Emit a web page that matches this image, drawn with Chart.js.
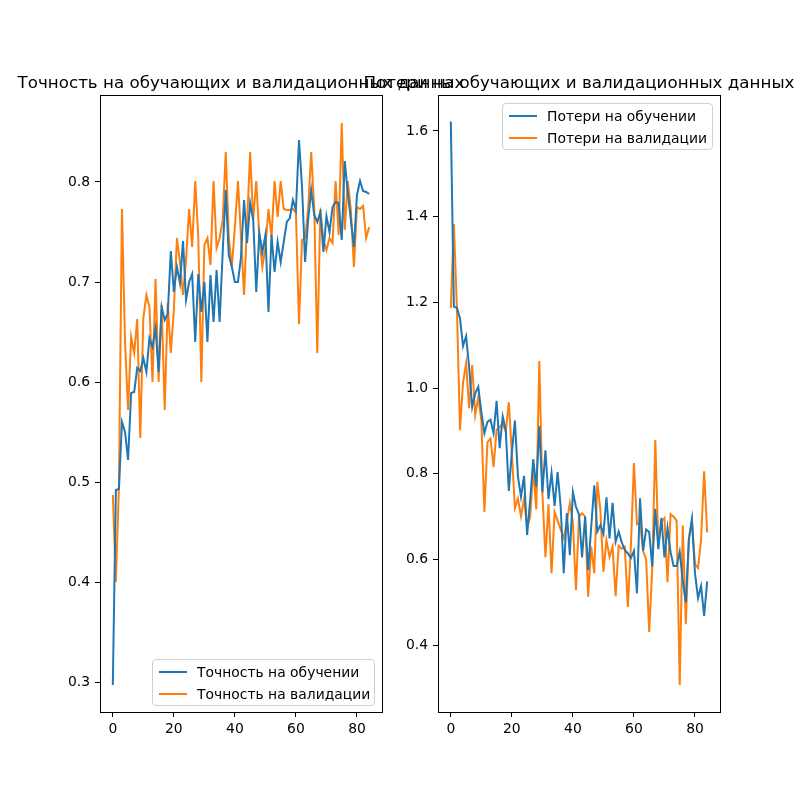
<!DOCTYPE html>
<html>
<head>
<meta charset="utf-8">
<script src="https://cdn.jsdelivr.net/npm/chart.js@4.4.0/dist/chart.umd.min.js"></script>
<style>
  body { margin: 0; background: #fff; }
  #wrap { position: relative; width: 800px; height: 800px; }
  canvas { position: absolute; left: 0; top: 0; }
  .title {
    position: absolute; top: 72px; height: 20px; line-height: 20px;
    width: 600px; margin-left: -300px; text-align: center; white-space: nowrap;
    font-family: "DejaVu Sans", sans-serif; font-size: 16.7px; color: #000;
  }
  .legend {
    position: absolute; background: rgba(255,255,255,0.8);
    border: 1px solid #d0d0d0; border-radius: 4px; white-space: nowrap;
    font-family: "DejaVu Sans", sans-serif; font-size: 13.9px; color: #000;
    padding: 1px 6px 1px 6px; box-sizing: border-box;
  }
  .legend .row { display: flex; align-items: center; height: 22px; }
  .legend .swatch { width: 28px; height: 2px; margin-right: 10px; flex: none; }
</style>
</head>
<body>
<div id="wrap">
  <canvas id="accChart" width="800" height="800"></canvas>
  <canvas id="lossChart" width="800" height="800"></canvas>
  <div class="title" id="accTitle" style="left:241px;"></div>
  <div class="title" id="lossTitle" style="left:579px;"></div>
  <div class="legend" id="accLegend" style="left:152px; top:659px; width:223px; height:47px;"></div>
  <div class="legend" id="lossLegend" style="left:502px; top:103px; width:211px; height:47px;"></div>
</div>
<script>
// epochs 0..84
const epochs = Array.from({ length: 85 }, (_, i) => i);
const xTicks = [0, 20, 40, 60, 80];
const accTicks = [0.3, 0.4, 0.5, 0.6, 0.7, 0.8];
const lossTicks = [0.4, 0.6, 0.8, 1.0, 1.2, 1.4, 1.6];

const accTitle = "Точность на обучающих и валидационных данных";
const lossTitle = "Потери на обучающих и валидационных данных";

const trainAcc = [
  0.297, 0.492, 0.493, 0.56, 0.55, 0.522, 0.589, 0.59, 0.614, 0.611,
  0.624, 0.61, 0.644, 0.635, 0.654, 0.61, 0.675, 0.662, 0.668, 0.731,
  0.69, 0.715, 0.699, 0.741, 0.682, 0.70, 0.708, 0.64, 0.708, 0.67,
  0.70, 0.64, 0.707, 0.66, 0.712, 0.66, 0.73, 0.792, 0.727, 0.715,
  0.70, 0.70, 0.725, 0.782, 0.739, 0.779, 0.762, 0.69, 0.749, 0.73,
  0.747, 0.67, 0.747, 0.71, 0.74, 0.72, 0.74, 0.76, 0.764, 0.782,
  0.772, 0.842, 0.795, 0.72, 0.762, 0.792, 0.767, 0.76, 0.77, 0.73,
  0.766, 0.75, 0.775, 0.78, 0.779, 0.742, 0.821, 0.789, 0.762, 0.735,
  0.787, 0.801, 0.791, 0.79, 0.788
];
const valAcc = [
  0.487, 0.40, 0.495, 0.773, 0.64, 0.572, 0.645, 0.629, 0.663, 0.544,
  0.664, 0.687, 0.675, 0.60, 0.703, 0.60, 0.677, 0.572, 0.679, 0.629,
  0.672, 0.744, 0.72, 0.687, 0.722, 0.773, 0.735, 0.801, 0.745, 0.60,
  0.737, 0.744, 0.717, 0.801, 0.734, 0.744, 0.762, 0.83, 0.745, 0.715,
  0.755, 0.801, 0.745, 0.687, 0.76, 0.83, 0.762, 0.801, 0.745, 0.715,
  0.735, 0.773, 0.745, 0.801, 0.765, 0.801, 0.773, 0.772, 0.772, 0.773,
  0.769, 0.658, 0.742, 0.744, 0.773, 0.83, 0.773, 0.629, 0.773, 0.742,
  0.732, 0.744, 0.739, 0.801, 0.747, 0.859, 0.752, 0.801, 0.772, 0.715,
  0.775, 0.773, 0.776, 0.744, 0.755
];
const trainLoss = [
  1.622, 1.19, 1.187, 1.163, 1.098, 1.121, 1.049, 0.956, 0.988, 1.003,
  0.944, 0.895, 0.921, 0.926, 0.895, 0.97, 0.86, 0.934, 0.902, 0.76,
  0.85, 0.924, 0.793, 0.746, 0.795, 0.657, 0.739, 0.834, 0.769, 0.911,
  0.757, 0.855, 0.741, 0.802, 0.725, 0.804, 0.723, 0.568, 0.708, 0.61,
  0.757, 0.723, 0.705, 0.605, 0.70, 0.575, 0.676, 0.773, 0.665, 0.68,
  0.66, 0.745, 0.649, 0.732, 0.641, 0.665, 0.64, 0.622, 0.614, 0.603,
  0.62, 0.521, 0.743, 0.62, 0.67, 0.664, 0.583, 0.718, 0.624, 0.697,
  0.605, 0.674, 0.617, 0.585, 0.585, 0.618, 0.55, 0.50, 0.647, 0.695,
  0.568, 0.51, 0.538, 0.468, 0.549
];
const valLoss = [
  1.187, 1.383, 1.187, 0.902, 1.012, 1.058, 0.953, 1.054, 0.937, 0.979,
  0.925, 0.711, 0.874, 0.882, 0.816, 0.902, 0.909, 0.917, 0.898, 0.967,
  0.848, 0.72, 0.742, 0.701, 0.741, 0.676, 0.699, 0.811, 0.717, 1.063,
  0.757, 0.605, 0.729, 0.568, 0.711, 0.69, 0.67, 0.65, 0.687, 0.731,
  0.687, 0.528, 0.70, 0.708, 0.70, 0.513, 0.63, 0.568, 0.781, 0.715,
  0.571, 0.645, 0.606, 0.63, 0.514, 0.632, 0.625, 0.63, 0.489, 0.63,
  0.825, 0.682, 0.686, 0.62, 0.60, 0.431, 0.58, 0.879, 0.632, 0.689,
  0.697, 0.547, 0.706, 0.70, 0.69, 0.307, 0.679, 0.449, 0.647, 0.69,
  0.589, 0.58, 0.647, 0.806, 0.663
];

const BLUE = "#1f77b4";
const ORANGE = "#ff7f0e";

Chart.defaults.font.family = "'DejaVu Sans', sans-serif";
Chart.defaults.font.size = 13.9;
Chart.defaults.color = "#000";

// black frame around the plot area, like matplotlib spines
const frame = {
  id: "frame",
  afterDraw(chart) {
    const a = chart.chartArea;
    const ctx = chart.ctx;
    ctx.save();
    ctx.strokeStyle = "#000";
    ctx.lineWidth = 1;
    ctx.strokeRect(Math.round(a.left) + 0.5, Math.round(a.top) + 0.5,
      Math.round(a.right - a.left), Math.round(a.bottom - a.top));
    ctx.restore();
  }
};

function toPoints(values) {
  return epochs.map((x, i) => ({ x: x, y: values[i] }));
}

function makeChart(id, series, yMin, yMax, yTicks, padding) {
  return new Chart(document.getElementById(id), {
    type: "line",
    data: {
      datasets: series.map(s => ({
        label: s.label,
        data: toPoints(s.data),
        borderColor: s.color,
        backgroundColor: s.color,
        borderWidth: 2,
        pointRadius: 0,
        tension: 0,
      }))
    },
    options: {
      responsive: false,
      animation: false,
      layout: { padding: padding },
      plugins: {
        legend: { display: false },
        tooltip: { enabled: false },
      },
      scales: {
        x: {
          type: "linear",
          min: -4.2,
          max: 88.2,
          afterBuildTicks: scale => { scale.ticks = xTicks.map(v => ({ value: v })); },
          afterFit: scale => { scale.height = 40; },
          ticks: { padding: 4, maxRotation: 0, callback: v => String(v) },
          grid: { drawOnChartArea: false, drawTicks: true, tickLength: 5, color: "#000" },
          border: { display: false },
        },
        y: {
          type: "linear",
          min: yMin,
          max: yMax,
          afterBuildTicks: scale => { scale.ticks = yTicks.map(v => ({ value: v })); },
          afterFit: scale => { scale.width = 50; },
          ticks: { padding: 5, callback: v => v.toFixed(1) },
          grid: { drawOnChartArea: false, drawTicks: true, tickLength: 5, color: "#000" },
          border: { display: false },
        }
      }
    },
    plugins: [frame]
  });
}

const accSeries = [
  { label: "Точность на обучении", data: trainAcc, color: BLUE },
  { label: "Точность на валидации", data: valAcc, color: ORANGE },
];
const lossSeries = [
  { label: "Потери на обучении", data: trainLoss, color: BLUE },
  { label: "Потери на валидации", data: valLoss, color: ORANGE },
];

makeChart("accChart", accSeries, 0.27, 0.887, accTicks,
  { left: 50, right: 418, top: 95, bottom: 48 });
makeChart("lossChart", lossSeries, 0.244, 1.684, lossTicks,
  { left: 388, right: 80, top: 95, bottom: 48 });

document.getElementById("accTitle").textContent = accTitle;
document.getElementById("lossTitle").textContent = lossTitle;

function buildLegend(id, series) {
  const box = document.getElementById(id);
  series.forEach(s => {
    const row = document.createElement("div");
    row.className = "row";
    const sw = document.createElement("span");
    sw.className = "swatch";
    sw.style.background = s.color;
    const txt = document.createElement("span");
    txt.textContent = s.label;
    row.appendChild(sw);
    row.appendChild(txt);
    box.appendChild(row);
  });
}
buildLegend("accLegend", accSeries);
buildLegend("lossLegend", lossSeries);
</script>
</body>
</html>
